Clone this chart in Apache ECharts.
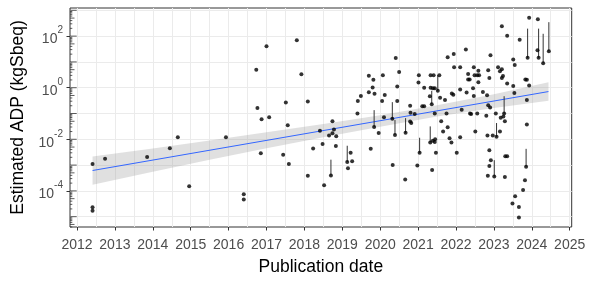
<!DOCTYPE html>
<html>
<head>
<meta charset="utf-8">
<script src="https://cdn.jsdelivr.net/npm/echarts@6.0.0/dist/echarts.min.js"></script>
<style>
  html, body { margin: 0; padding: 0; background: #fff; }
  #chart { width: 592px; height: 281px; }
</style>
</head>
<body>
<div id="chart"></div>
<script>
// publication date (decimal year) and log10 of the estimated ADP (kgSbeq)
const pointYears = [
  2012.41, 2012.41, 2012.41, 2012.74, 2013.85, 2014.45, 2014.66, 2014.96, 2015.93, 2017.00,
  2017.80, 2016.73, 2017.92, 2016.76, 2017.51, 2018.09, 2020.41, 2020.50, 2019.70, 2019.82,
  2020.07, 2019.80, 2019.70, 2019.85, 2019.49, 2020.12, 2020.45, 2019.41, 2020.05, 2020.45,
  2020.79, 2019.40, 2016.87, 2017.07, 2017.56, 2016.85, 2017.44, 2017.59, 2016.40, 2016.40,
  2018.09, 2018.23, 2018.48, 2018.52, 2018.70, 2018.41, 2018.74, 2018.78, 2018.74, 2018.65,
  2018.84, 2018.83, 2019.13, 2019.15, 2019.22, 2019.26, 2019.75, 2019.84, 2019.96, 2020.10,
  2020.32, 2020.39, 2020.33, 2020.66, 2020.67, 2020.79, 2023.93, 2024.16, 2023.21, 2023.35,
  2023.68, 2022.26, 2021.94, 2021.78, 2022.91, 2023.89, 2024.18, 2024.15, 2024.30, 2024.45,
  2023.51, 2023.55, 2021.95, 2022.11, 2022.47, 2022.59, 2022.85, 2023.11, 2023.21, 2023.16,
  2022.32, 2022.49, 2022.56, 2022.61, 2022.88, 2023.24, 2023.21, 2022.32, 2022.36, 2022.59,
  2023.83, 2023.87, 2023.93, 2023.35, 2023.51, 2021.02, 2021.01, 2021.33, 2021.41, 2021.56,
  2021.16, 2021.33, 2021.39, 2021.44, 2021.52, 2021.31, 2021.36, 2021.58, 2021.71, 2021.89,
  2021.93, 2022.11, 2022.28, 2022.47, 2022.45, 2022.71, 2022.82, 2023.54, 2023.87, 2021.11,
  2021.16, 2022.15, 2022.85, 2022.90, 2020.80, 2020.82, 2020.91, 2020.98, 2021.04, 2021.32,
  2021.39, 2021.45, 2021.44, 2021.47, 2021.37, 2021.44, 2021.61, 2021.66, 2021.78, 2021.83,
  2021.88, 2021.75, 2022.02, 2022.11, 2022.37, 2022.40, 2022.51, 2022.56, 2022.80, 2022.83,
  2022.97, 2023.07, 2023.05, 2023.16, 2023.18, 2023.25, 2023.27, 2023.29, 2022.88, 2022.92,
  2022.88, 2022.84, 2023.01, 2023.30, 2023.35, 2023.29, 2023.87, 2023.85, 2023.82, 2023.77,
  2023.56, 2023.49, 2023.66, 2023.66
];
const pointLogAdp = [
  -2.96, -4.63, -4.77, -2.75, -2.69, -2.35, -1.92, -3.82, -1.92, 1.61,
  1.84, 0.70, 0.52, -0.79, -0.57, -0.53, 1.15, 0.61, 0.46, 0.31,
  0.48, 0.01, -0.18, -0.23, -0.32, -0.28, 0.05, -0.52, -0.52, -0.52,
  -0.70, -1.00, -1.22, -1.15, -1.46, -2.54, -2.60, -2.96, -4.13, -4.33,
  -3.41, -2.36, -2.18, -3.78, -3.40, -1.67, -1.30, -1.62, -1.77, -1.85,
  -1.88, -2.26, -2.88, -3.12, -2.52, -2.85, -2.37, -1.52, -1.76, -1.15,
  -1.20, -1.83, -3.00, -3.56, -1.75, -1.31, 2.71, 2.65, 2.38, 2.01,
  1.86, 1.48, 1.31, 1.18, 1.26, 1.16, 1.16, 1.45, 0.95, 1.41,
  1.09, 0.88, 0.79, 0.79, 0.79, 0.66, 0.68, 0.79, 0.72, 0.64,
  0.53, 0.48, 0.48, 0.48, 0.38, 0.45, 0.38, 0.32, 0.32, 0.21,
  0.32, 0.31, 0.09, 0.16, 0.07, 0.48, 0.20, 0.48, 0.48, 0.48,
  0.00, 0.00, -0.02, -0.02, -0.12, -0.33, -0.64, -0.39, -0.48, -0.22,
  -0.27, -0.07, -0.19, -0.32, -0.02, -0.17, -0.29, -0.21, -0.48, -0.72,
  -0.72, -0.85, -0.68, -0.77, -0.97, -1.37, -1.02, -3.02, -2.52, -2.12,
  -2.06, -2.00, -2.10, -2.52, -3.19, -1.00, -1.30, -1.70, -1.53, -1.96,
  -2.12, -1.00, -2.52, -1.92, -1.00, -1.02, -1.70, -1.00, -1.09, -1.85,
  -1.85, -1.90, -1.00, -1.70, -1.16, -1.12, -1.00, -1.30, -2.42, -2.81,
  -3.04, -3.41, -3.44, -2.66, -2.66, -3.46, -1.43, -3.06, -3.59, -3.97,
  -4.21, -4.49, -4.62, -5.03
];

// studies that report a range (log10 low / high)
const rangeYears = [2018.70, 2019.13, 2019.84, 2020.32, 2020.39, 2020.67, 2021.04, 2021.32, 2021.52,
  2021.36, 2023.27, 2023.07, 2023.01, 2023.85, 2023.89, 2024.18, 2024.30, 2024.45];
const rangeLow = [-3.40, -2.88, -1.52, -1.20, -1.83, -1.75, -2.52, -2.12, -0.12,
  -0.64, -1.00, -1.90, -3.44, -3.06, 1.16, 1.16, 0.95, 1.41];
const rangeHigh = [-2.79, -2.25, -0.87, -0.56, -1.25, -1.18, -1.94, -1.50, 0.48,
  -0.12, -0.33, -1.37, -2.81, -2.37, 2.29, 2.29, 2.09, 2.54];

// linear fit and its confidence band
const fitYears = [2012.41, 2024.44];
const fitLogAdp = [-3.21, -0.15];
const bandYears = [2012.41, 2014, 2015.5, 2017, 2018.5, 2020, 2021.5, 2023, 2024.44];
const bandLow = [-3.76, -3.26, -2.79, -2.35, -1.92, -1.51, -1.12, -0.79, -0.51];
const bandHigh = [-2.67, -2.36, -2.05, -1.73, -1.41, -1.07, -0.68, -0.25, 0.21];

const yearTicks = [2012, 2013, 2014, 2015, 2016, 2017, 2018, 2019, 2020, 2021, 2022, 2023, 2024, 2025];
const decadeTicks = [-4, -2, 0, 2];
const logTickSteps = [1, 2, 3, 4, 5, 6, 7, 8, 9];

const xMin = 2011.815, xMax = 2025.053;
const yMin = -5.40, yMax = 3.09;
const font = "Liberation Sans, Arial, sans-serif";
const labelColor = "#4d4d4d";

// log ticks along the left edge of the panel
let logTicks = [];
for (let n = -6; n <= 3; n++) {
  logTickSteps.forEach((k) => {
    let v = n + Math.log10(k);
    if (v >= yMin && v <= yMax) {
      let len = k === 1 ? 6.7 : (k === 5 ? 4.5 : 2.3);
      logTicks.push([xMin, v, len]);
    }
  });
}

const chart = echarts.init(document.getElementById("chart"));

chart.setOption({
  animation: false,
  grid: {
    left: 70, right: 20.3, top: 8, bottom: 47,
    show: true, borderColor: "#333", borderWidth: 1, backgroundColor: "transparent",
  },
  xAxis: [
    {
      type: "value", min: xMin, max: xMax, splitNumber: 26,
      axisLine: { show: false, onZero: false },
      axisTick: { show: false },
      axisLabel: { show: false },
      splitLine: { show: true, showMinLine: false, showMaxLine: false, lineStyle: { color: "#ebebeb", width: 1 } },
    },
    {
      type: "value", min: xMin, max: xMax, position: "bottom",
      axisLine: { show: false, onZero: false },
      axisTick: { show: true, customValues: yearTicks, length: 3.5, lineStyle: { color: "#333" } },
      axisLabel: {
        customValues: yearTicks, formatter: (v) => String(v),
        color: labelColor, fontSize: 14, fontFamily: font, margin: 11,
      },
      splitLine: { show: false },
      name: "Publication date", nameLocation: "middle", nameGap: 31,
      nameTextStyle: { fontSize: 17.5, color: "#000", fontFamily: font },
    },
  ],
  yAxis: [
    {
      type: "value", min: yMin, max: yMax, splitNumber: 8,
      axisLine: { show: false, onZero: false },
      axisTick: { show: false },
      axisLabel: { show: false },
      splitLine: { show: true, showMinLine: false, showMaxLine: false, lineStyle: { color: "#ebebeb", width: 1 } },
    },
    {
      type: "value", min: yMin, max: yMax, position: "left",
      axisLine: { show: false, onZero: false },
      axisTick: { show: true, customValues: decadeTicks, length: 3.5, lineStyle: { color: "#333" } },
      axisLabel: {
        customValues: decadeTicks, margin: 7,
        formatter: (v) => "{b|10}{s|" + v + "}",
        rich: {
          b: { fontSize: 14, color: labelColor, fontFamily: font, verticalAlign: "bottom", lineHeight: 21 },
          s: { fontSize: 10, color: labelColor, fontFamily: font, verticalAlign: "top", lineHeight: 12 },
        },
      },
      splitLine: { show: false },
      name: "Estimated ADP (kgSbeq)", nameLocation: "middle", nameRotate: 90, nameGap: 30,
      nameTextStyle: { fontSize: 17.5, color: "#000", fontFamily: font },
    },
  ],
  series: [
    {
      // confidence band
      type: "custom",
      xAxisIndex: 0, yAxisIndex: 0, z: 1,
      data: bandYears.map((x, i) => [x, bandLow[i], bandHigh[i]]),
      renderItem: (params, api) => {
        if (params.dataIndex !== 0) return null;
        let upper = bandYears.map((x, i) => api.coord([x, bandHigh[i]]));
        let lower = bandYears.map((x, i) => api.coord([x, bandLow[i]])).reverse();
        return {
          type: "polygon",
          shape: { points: upper.concat(lower) },
          style: { fill: "rgba(153,153,153,0.3)" },
        };
      },
    },
    {
      type: "line",
      xAxisIndex: 0, yAxisIndex: 0, z: 2,
      data: fitYears.map((x, i) => [x, fitLogAdp[i]]),
      symbol: "none",
      lineStyle: { color: "#3366ff", width: 1 },
    },
    {
      // reported ranges
      type: "custom",
      xAxisIndex: 0, yAxisIndex: 0, z: 3,
      data: rangeYears.map((x, i) => [x, rangeLow[i], rangeHigh[i]]),
      renderItem: (params, api) => {
        let p1 = api.coord([api.value(0), api.value(1)]);
        let p2 = api.coord([api.value(0), api.value(2)]);
        return {
          type: "line",
          shape: { x1: p1[0], y1: p1[1], x2: p2[0], y2: p2[1] },
          style: { stroke: "#333", lineWidth: 1 },
        };
      },
    },
    {
      type: "scatter",
      xAxisIndex: 0, yAxisIndex: 0, z: 4,
      data: pointYears.map((x, i) => [x, pointLogAdp[i]]),
      symbolSize: 4,
      itemStyle: { color: "#000" },
    },
    {
      // annotation log ticks
      type: "custom",
      xAxisIndex: 0, yAxisIndex: 0, z: 5,
      data: logTicks,
      renderItem: (params, api) => {
        let p = api.coord([api.value(0), api.value(1)]);
        return {
          type: "line",
          shape: { x1: p[0], y1: p[1], x2: p[0] + api.value(2), y2: p[1] },
          style: { stroke: "#333", lineWidth: 0.8 },
        };
      },
    },
  ],
});
</script>
</body>
</html>
